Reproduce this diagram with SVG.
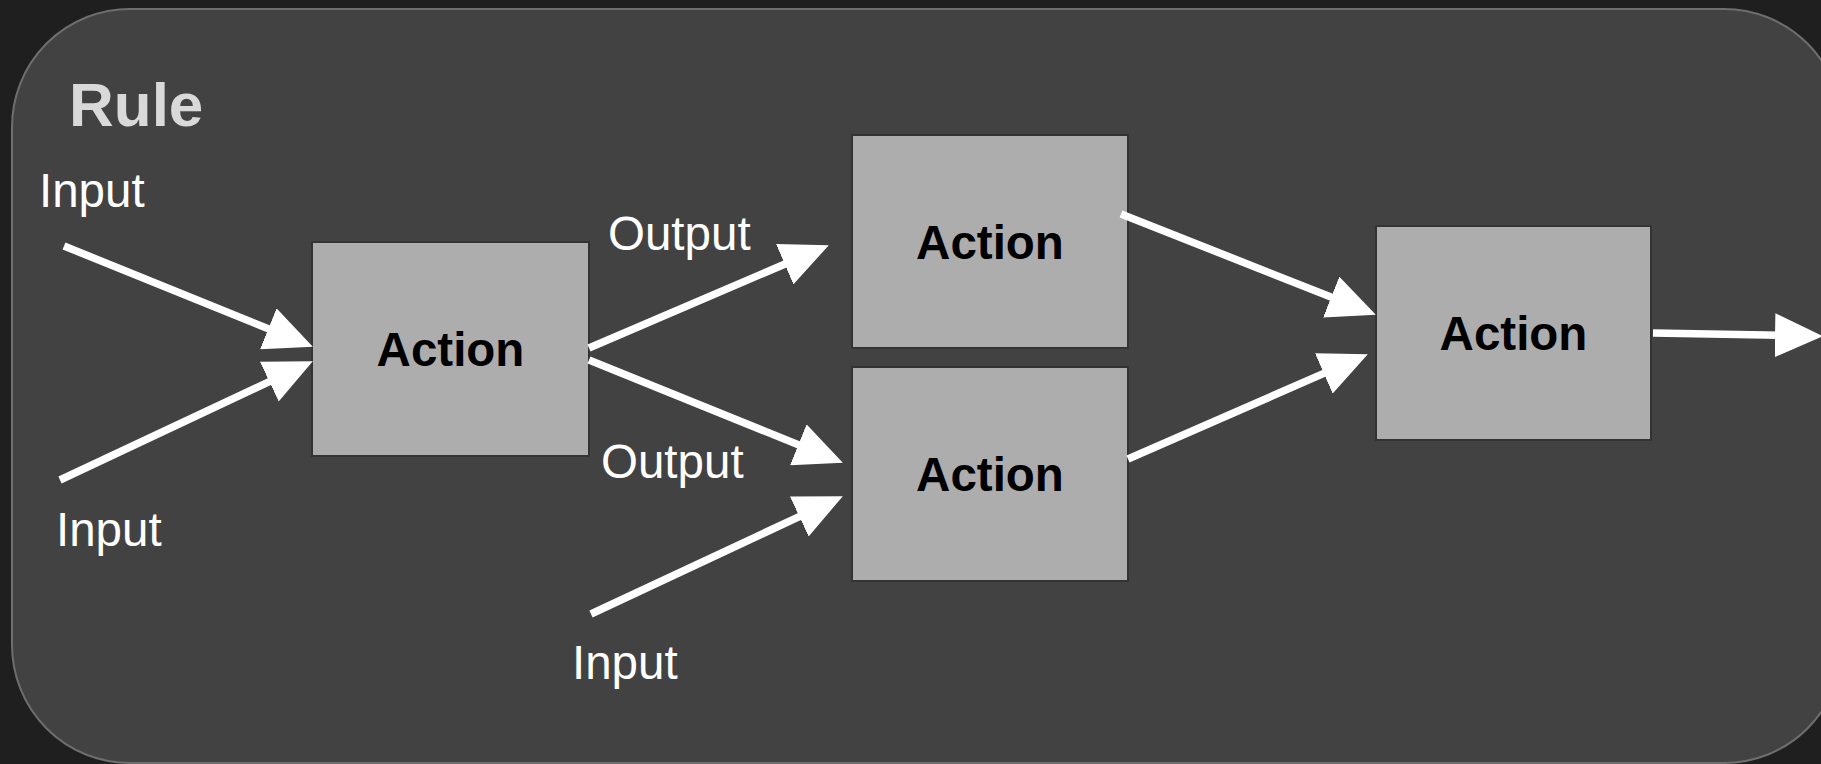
<svg xmlns="http://www.w3.org/2000/svg" width="1821" height="764" viewBox="0 0 1821 764">
<style>
.box{fill:#adadad;stroke:#333333;stroke-width:2}
.act{font-family:"Liberation Sans",Arial,sans-serif;font-weight:bold;font-size:47.5px;fill:#000;text-anchor:middle}
.lbl{font-family:"Liberation Sans",Arial,sans-serif;font-size:47.5px;fill:#ffffff}
.con line{stroke:#ffffff;stroke-width:7.5;marker-end:url(#ah)}
</style>
<defs>
<marker id="ah" markerUnits="userSpaceOnUse" markerWidth="48" markerHeight="44" refX="10" refY="22" orient="auto">
<path d="M0,0 L48,22 L0,44 z" fill="#ffffff"/>
</marker>
</defs>
<rect width="1821" height="764" fill="#1f1f1f"/>
<g id="rule">
<rect x="12" y="9" width="1830" height="754" rx="118" ry="118" fill="#424242" stroke="#6e6e6e" stroke-width="2"/>
<text x="69" y="126" style="font-family:'Liberation Sans',Arial,sans-serif;font-weight:bold;font-size:62px;fill:#d9d9d9">Rule</text>
</g>
<g id="labels">
<text class="lbl" x="39" y="207">Input</text>
<text class="lbl" x="56" y="546">Input</text>
<text class="lbl" x="572" y="679">Input</text>
<text class="lbl" x="608" y="250">Output</text>
<text class="lbl" x="601" y="478">Output</text>
</g>
<g id="action1"><rect class="box" x="312" y="242" width="277" height="214"/><text class="act" x="450.5" y="366">Action</text></g>
<g id="action2"><rect class="box" x="852" y="135" width="276" height="213"/><text class="act" x="990" y="259">Action</text></g>
<g id="action3"><rect class="box" x="852" y="367" width="276" height="214"/><text class="act" x="990" y="491">Action</text></g>
<g id="action4"><rect class="box" x="1376" y="226" width="275" height="214"/><text class="act" x="1513.5" y="350">Action</text></g>
<g id="connectors" class="con">
<line x1="64" y1="246" x2="277.6" y2="332.5"/>
<line x1="60" y1="480" x2="278.4" y2="377.3"/>
<line x1="589" y1="348" x2="793.9" y2="260.2"/>
<line x1="589" y1="360" x2="807.6" y2="448.5"/>
<line x1="591" y1="614" x2="808.4" y2="512.3"/>
<line x1="1121" y1="214" x2="1340.5" y2="300.8"/>
<line x1="1128" y1="459" x2="1333" y2="369.4"/>
<line x1="1653" y1="333" x2="1785" y2="335.4"/>
</g>
</svg>
